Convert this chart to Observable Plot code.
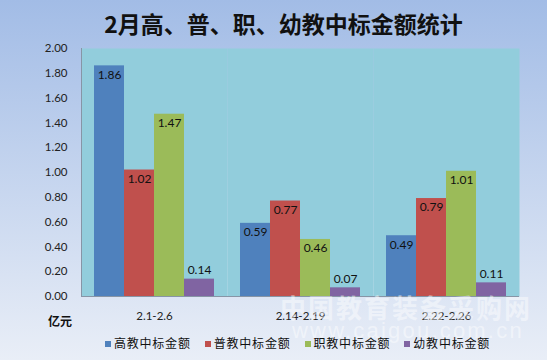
<!DOCTYPE html>
<html><head><meta charset="utf-8">
<script src="https://cdn.jsdelivr.net/npm/d3@7"></script>
<script src="https://cdn.jsdelivr.net/npm/@observablehq/plot@0.6"></script>
<style>
body{margin:0}
#wrap{position:relative;width:547px;height:360px;overflow:hidden;background:linear-gradient(#a2bce6,#e9eef7);font-family:Lato,"Noto Sans CJK SC",sans-serif}
#chart{position:absolute;left:0;top:0}
#title{position:absolute;left:10px;width:547px;top:6px;text-align:center;font:bold 23px "Noto Sans CJK SC",sans-serif;color:#111}
#unit{position:absolute;left:48px;top:312px;font:bold 12px "Noto Sans CJK SC",sans-serif;color:#111}
#legend{position:absolute;left:48px;width:499px;top:334px;display:flex;justify-content:center;gap:14px;font:12px "Noto Sans CJK SC",sans-serif;color:#111;letter-spacing:0.8px}
#legend span.sw{display:inline-block;width:6px;height:6px;margin-right:3px;vertical-align:1px}
.wm{position:absolute;color:#fff;opacity:0.45;white-space:nowrap}
#wm1{left:280px;top:288px;font:bold 26px "Noto Sans CJK SC",sans-serif;letter-spacing:2px}
#wm2{left:292px;top:318px;font:22px "Liberation Sans",sans-serif;letter-spacing:2.2px}
</style></head><body>
<div id="wrap">
<div id="chart"></div>
<div id="title">2月高、普、职、幼教中标金额统计</div>
<div id="unit">亿元</div>
<div id="legend"></div>
<div class="wm" id="wm1">中国教育装备采购网</div>
<div class="wm" id="wm2">www.caigou.com.cn</div>
</div>
<script>
const periods = ["2.1-2.6", "2.14-2.19", "2.22-2.26"];
const series = ["高教中标金额", "普教中标金额", "职教中标金额", "幼教中标金额"];
const gaojiao = [1.86, 0.59, 0.49];
const pujiao = [1.02, 0.77, 0.79];
const zhijiao = [1.47, 0.46, 1.01];
const youjiao = [0.14, 0.07, 0.11];
const yTicks = [0, 0.2, 0.4, 0.6, 0.8, 1.0, 1.2, 1.4, 1.6, 1.8, 2.0];
const colors = ["#4f81bd", "#c0504d", "#9bbb59", "#8064a2"];

const valuesBySeries = [gaojiao, pujiao, zhijiao, youjiao];
const data = [];
periods.forEach((p, i) => series.forEach((s, j) => data.push({period: p, series: s, value: valuesBySeries[j][i]})));

const chart = Plot.plot({
  width: 547, height: 330,
  marginTop: 48, marginBottom: 34, marginLeft: 81, marginRight: 28,
  style: {background: "transparent", fontFamily: "Lato, sans-serif"},
  fx: {domain: periods, padding: 0, label: null},
  x: {domain: series, paddingInner: 0, paddingOuter: 0.38, axis: null},
  y: {domain: [0, 2], label: null},
  color: {domain: series, range: colors},
  marks: [
    Plot.frame({fill: "#92cddc", stroke: null}),
    Plot.barY(data, {fx: "period", x: "series", y: "value", fill: "series"}),
    Plot.ruleY([0], {stroke: "#8795a6"}),
    Plot.frame({anchor: "left", stroke: "#8795a6", facetAnchor: "left"}),
    Plot.text(data.filter(d => d.value >= 0.3), {fx: "period", x: "series", y: "value", text: d => d.value.toFixed(2), dy: 9, fill: "#111", fontSize: 12}),
    Plot.text(data.filter(d => d.value < 0.3), {fx: "period", x: "series", y: "value", text: d => d.value.toFixed(2), dy: -9, fill: "#111", fontSize: 12}),
    Plot.axisY({ticks: yTicks, tickFormat: d3.format(".2f"), tickSize: 0, tickPadding: 14, fontSize: 11.5, fill: "#222", label: null}),
    Plot.axisFx({anchor: "bottom", tickSize: 0, tickPadding: 15, fontSize: 11.5, fill: "#222", label: null})
  ]
});
document.getElementById("chart").appendChild(chart);

const legend = document.getElementById("legend");
series.forEach((s, i) => {
  const item = document.createElement("div");
  item.innerHTML = `<span class="sw" style="background:${colors[i]}"></span>${s}`;
  legend.appendChild(item);
});
</script>
</body></html>
